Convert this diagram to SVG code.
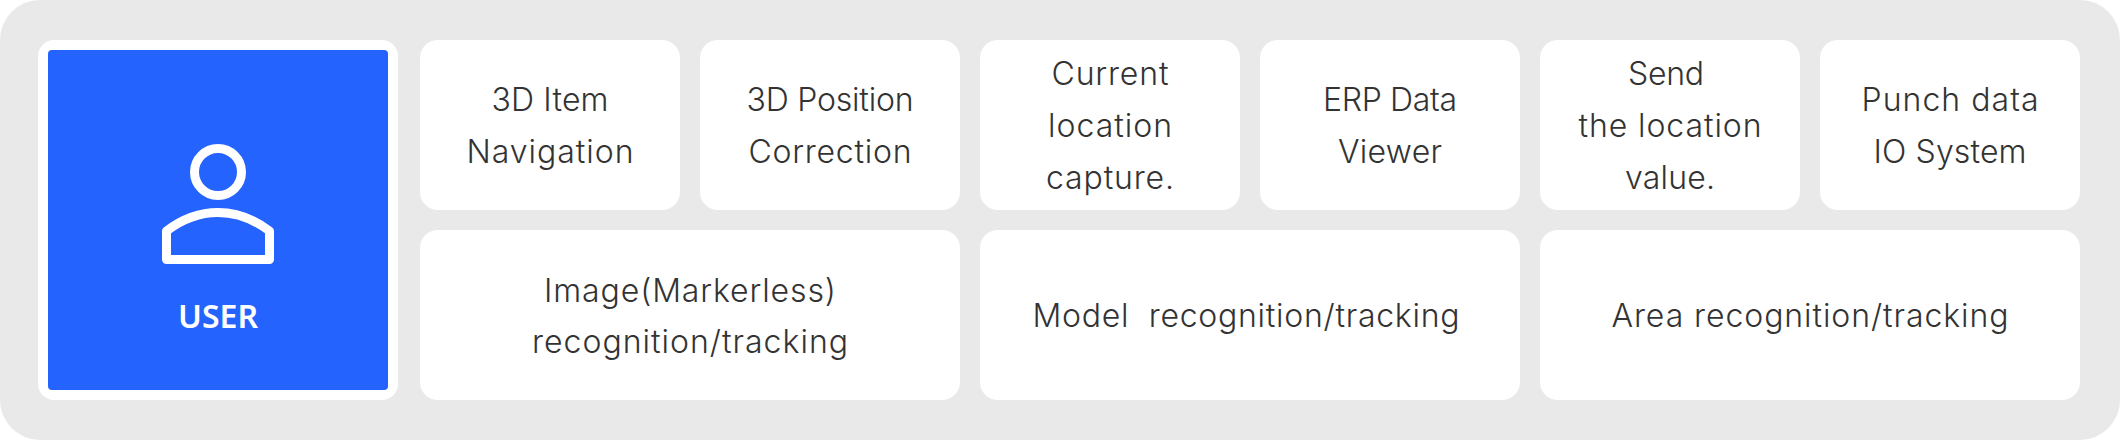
<svg xmlns="http://www.w3.org/2000/svg" width="2120" height="440" viewBox="0 0 2120 440">
<style>
.card{fill:#fff}
.t{font-family:"Inter","Liberation Sans",sans-serif;font-size:32px;font-weight:300;fill:#333;text-anchor:middle}
.u{font-family:"Noto Sans",sans-serif;font-size:32px;font-weight:600;fill:#fff;text-anchor:middle}
.i{fill:none;stroke:#fff;stroke-width:9;stroke-linejoin:round}
</style>
<rect id="background" width="2120" height="440" rx="40" fill="#e9e9e9"/>
<g id="user">
<rect x="38" y="40" width="360" height="360" rx="16" fill="#fff"/>
<rect x="48" y="50" width="340" height="340" rx="4" fill="#2563ff"/>
<circle class="i" cx="218" cy="172" r="23.5"/>
<path class="i" d="M166.500 231C181 220 198 212.500 218 212.500C238 212.500 255 220 269.500 231V259.500H166.500Z"/>
<text class="u" x="218" y="327.500">USER</text>
</g>
<g id="n1"><rect class="card" x="420" y="40" width="260" height="170" rx="18"/><text class="t" x="550" y="111" textLength="117">3D Item</text><text class="t" x="550" y="163" textLength="167">Navigation</text></g>
<g id="n2"><rect class="card" x="700" y="40" width="260" height="170" rx="18"/><text class="t" x="830" y="111" textLength="167">3D Position</text><text class="t" x="830" y="163" textLength="163">Correction</text></g>
<g id="n3"><rect class="card" x="980" y="40" width="260" height="170" rx="18"/><text class="t" x="1110" y="85" textLength="117">Current</text><text class="t" x="1110" y="137" textLength="124">location</text><text class="t" x="1110" y="189" textLength="128">capture.</text></g>
<g id="n4"><rect class="card" x="1260" y="40" width="260" height="170" rx="18"/><text class="t" x="1390" y="111" textLength="134">ERP Data</text><text class="t" x="1390" y="163" textLength="104">Viewer</text></g>
<g id="n5"><rect class="card" x="1540" y="40" width="260" height="170" rx="18"/><text class="t" x="1666" y="85" textLength="76">Send</text><text class="t" x="1670" y="137" textLength="183">the location</text><text class="t" x="1670" y="189" textLength="90">value.</text></g>
<g id="n6"><rect class="card" x="1820" y="40" width="260" height="170" rx="18"/><text class="t" x="1950" y="111" textLength="177">Punch data</text><text class="t" x="1950" y="163" textLength="153">IO System</text></g>
<g id="n7"><rect class="card" x="420" y="230" width="540" height="170" rx="18"/><text class="t" x="690" y="301.500" textLength="292">Image(Markerless)</text><text class="t" x="690" y="353" textLength="316">recognition/tracking</text></g>
<g id="n8"><rect class="card" x="980" y="230" width="540" height="170" rx="18"/><text class="t" x="1246" y="327" xml:space="preserve" textLength="427">Model  recognition/tracking</text></g>
<g id="n9"><rect class="card" x="1540" y="230" width="540" height="170" rx="18"/><text class="t" x="1810" y="327" textLength="397">Area recognition/tracking</text></g>
<g id="connectors"/>
</svg>
